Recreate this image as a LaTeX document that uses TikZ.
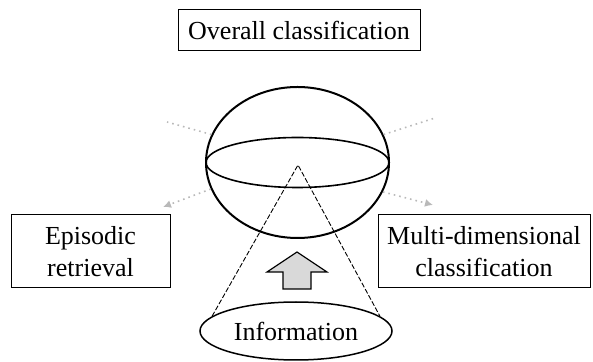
\documentclass[tikz,border=0pt]{standalone}
\usepackage{fontspec}
\setmainfont{Liberation Serif}
\usetikzlibrary{shapes.geometric,arrows.meta}
\begin{document}
\begin{tikzpicture}[x=0.5pt,y=-0.5pt,line join=miter,>={Latex[length=4pt,width=4pt]},font=\fontsize{13}{16}\selectfont]
	\tikzset{box/.style={draw,line width=0.5pt,inner sep=0pt,align=center},
		ray/.style={gray!55,line width=0.8pt,dotted},
		cone/.style={line width=0.45pt,dash pattern=on 2.5pt off 1pt}}
	\useasboundingbox (0,0) rectangle (593,362);
	% Hộp chữ
	\node[box,minimum width=121pt,minimum height=20.5pt] (overall) at (299,30.5) {Overall classification};
	\node[box,minimum width=79.5pt,minimum height=36.5pt] (episodic) at (90.5,251.5) {Episodic\\retrieval};
	\node[box,minimum width=106pt,minimum height=36.5pt] (multi) at (484,251.5) {Multi-dimensional\\classification};
	% Quả cầu
	\node[draw,ellipse,line width=1pt,minimum width=91.5pt,minimum height=75.5pt,inner sep=0pt] (sphere) at (297.5,162.5) {};
	\draw[line width=0.8pt] (sphere.center) ellipse [x radius=91.5,y radius=25];
	\coordinate (ul) at (167,122);
	\coordinate (ur) at (435,118);
	\coordinate (ll) at (163,207);
	\coordinate (lr) at (433,205);
	\foreach \a/\e/\tip in {162/ul/-,18/ur/-,197/ll/->,341/lr/->}{
		\draw[ray,\tip] (sphere.\a) -- (\e);}
	% Hình nón
	\node[draw,ellipse,line width=0.75pt,minimum width=96pt,minimum height=29pt,inner sep=0pt] (info) at (296,331) {Information};
	\coordinate (apex) at (298,165);
	\draw[cone] (info.170) -- (apex) -- (info.10);
	\draw[line width=0.6pt,fill=gray!30] (297,252) -- (327,272) -- (311,272) -- (311,289)
		-- (283,289) -- (283,272) -- (267,272) -- cycle;
\end{tikzpicture}
\end{document}
